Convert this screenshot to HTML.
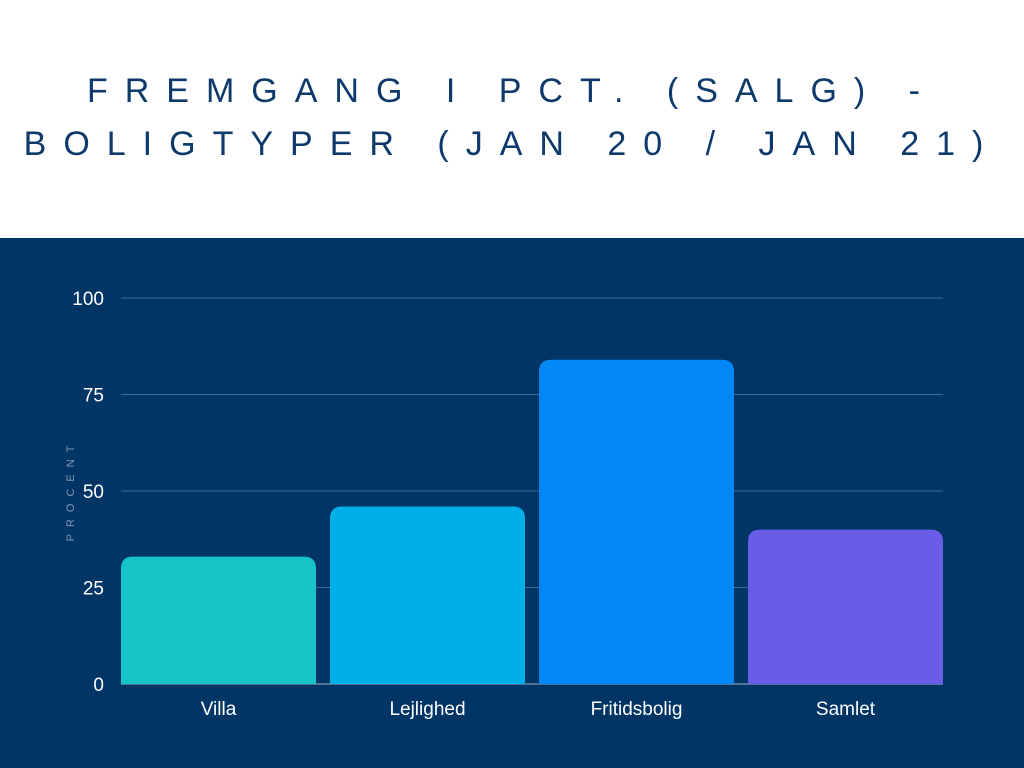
<!DOCTYPE html>
<html><head><meta charset="utf-8"><style>
body{margin:0;width:1024px;height:768px;overflow:hidden;background:#fff;font-family:"Liberation Sans",sans-serif}
#title{position:absolute;left:0;top:0;width:1024px;height:238px;background:#fff}
.tl{position:absolute;left:0;width:1024px;text-align:center;color:#0d3a6b;font-size:34px;letter-spacing:17px;font-weight:normal}
#panel{position:absolute;left:0;top:238px;width:1024px;height:530px;background:#003566}
</style></head><body>
<div id="title">
<div class="tl" style="top:72px">FREMGANG I PCT. (SALG) -</div>
<div class="tl" style="top:125px">BOLIGTYPER (JAN 20 / JAN 21)</div>
</div>
<div id="panel"></div>
<svg id="chart" width="1024" height="768" style="position:absolute;left:0;top:0"></svg>
<script>
const categories=["Villa","Lejlighed","Fritidsbolig","Samlet"];
const values=[33,46,84,40];
const colors=["#17c5c9","#00aee8","#0288f5","#6a5ce6"];
const ticks=[0,25,50,75,100];
const svg=document.getElementById('chart');
const NS="http://www.w3.org/2000/svg";
const x0=121,x1=943,y0=684,y1=298,maxV=100;
const y=v=>y0-(v/maxV)*(y0-y1);
const band=(x1-x0+14)/categories.length;
function mk(t,a){const e=document.createElementNS(NS,t);for(const k in a)e.setAttribute(k,a[k]);svg.appendChild(e);return e;}
ticks.forEach(t=>{
 if(t>0){const l=mk('line',{x1:x0,x2:x1,y1:y(t),y2:y(t),stroke:'#3f6a96','stroke-width':1});
 
 }
 const tx=mk('text',{x:104,y:y(t)+7,'text-anchor':'end',fill:'#fff','font-size':19,'font-family':'Liberation Sans, sans-serif'});
 tx.textContent=t;
 
 
});
const base=mk('line',{x1:x0,x2:x1,y1:y0,y2:y0,stroke:'#9fb3c8','stroke-width':1});


categories.forEach((c,i)=>{
 const bx=x0+i*band,bw=band-14,top=y(values[i]),r=12;
 const h=y0-top;
 const p=mk('path',{d:`M${bx},${y0}V${top+r}Q${bx},${top} ${bx+r},${top}H${bx+bw-r}Q${bx+bw},${top} ${bx+bw},${top+r}V${y0}Z`,fill:colors[i]});
 
 
 const t=mk('text',{x:bx+bw/2,y:715,'text-anchor':'middle',fill:'#fff','font-size':19,'font-family':'Liberation Sans, sans-serif'});
 t.textContent=c;
 
 
});
const yt=mk('text',{x:0,y:0,transform:'translate(74,490) rotate(-90)','text-anchor':'middle',fill:'#7f97b3','font-size':11,'letter-spacing':'7','font-family':'Liberation Sans, sans-serif'});
yt.textContent='PROCENT';


</script>
</body></html>
